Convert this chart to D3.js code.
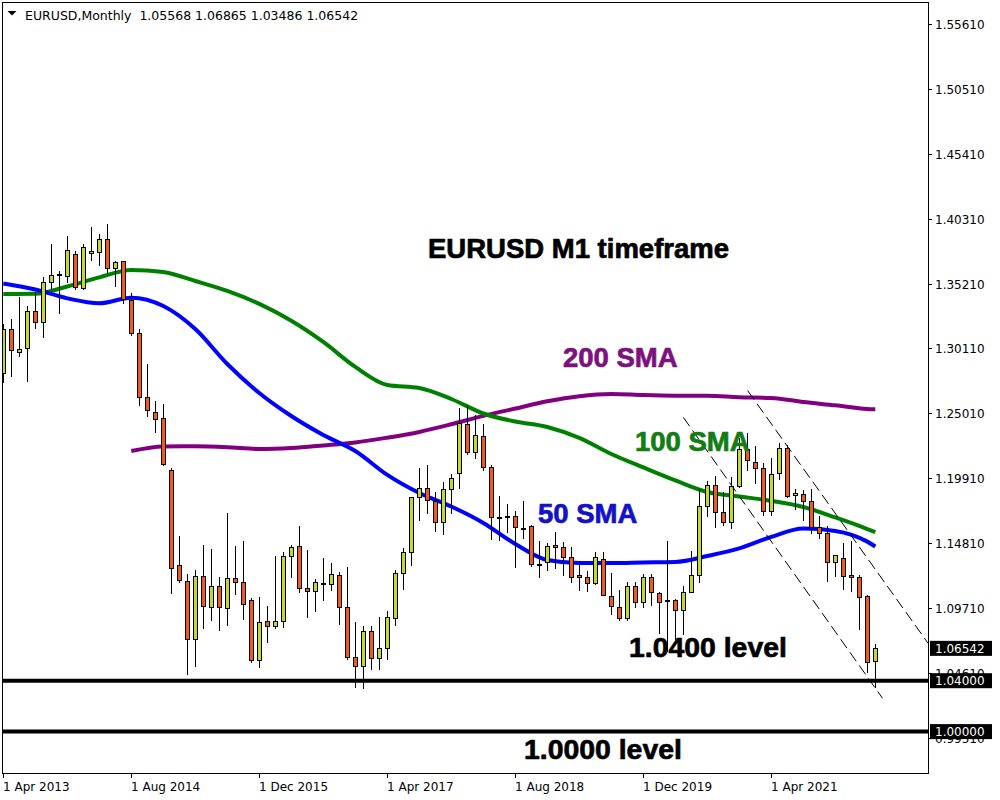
<!DOCTYPE html>
<html><head><meta charset="utf-8">
<script src="https://cdn.jsdelivr.net/npm/d3@7"></script>
<style>body{margin:0;background:#fff}svg{display:block}</style>
</head><body><svg id="c" width="1000" height="800"></svg>
<script>
// ---- data (monthly EURUSD, Apr 2013 .. May 2022) ----
const months = d3.range(110); // 0 = Apr 2013
const opens = [1.2818,1.3166,1.2982,1.3015,1.3303,1.3217,1.3531,1.3590,1.3583,1.3754,1.3484,1.3760,1.3772,1.3869,1.3641,1.3699,1.3392,1.3130,1.2627,1.2510,1.2462,1.2054,1.1307,1.1181,1.0726,1.1221,1.0977,1.1142,1.0969,1.1205,1.1173,1.1032,1.0560,1.0867,1.0828,1.0867,1.1378,1.1457,1.1126,1.1103,1.1165,1.1157,1.1228,1.0977,1.0584,1.0516,1.0793,1.0576,1.0655,1.0891,1.1244,1.1414,1.1842,1.1912,1.1814,1.1645,1.1903,1.2030,1.2415,1.2195,1.2323,1.2077,1.1689,1.1684,1.1691,1.1602,1.1616,1.1315,1.1330,1.1467,1.1449,1.1370,1.1231,1.1213,1.1166,1.1354,1.1069,1.0982,1.0895,1.1147,1.1021,1.1213,1.1087,1.1030,1.1031,1.0955,1.1100,1.1229,1.1773,1.1936,1.1724,1.1645,1.1928,1.2224,1.2121,1.2069,1.1734,1.2030,1.2227,1.1857,1.1865,1.1813,1.1611,1.1559,1.1335,1.1362,1.1231,1.1213,1.1066,1.05568];
const highs = [1.3205,1.3245,1.3418,1.3345,1.3452,1.3569,1.3833,1.3622,1.3894,1.3775,1.3832,1.3967,1.3913,1.3993,1.3700,1.3700,1.3445,1.3162,1.2889,1.2598,1.2575,1.2069,1.1537,1.1236,1.1270,1.1464,1.1435,1.1213,1.1716,1.1456,1.1496,1.1048,1.1056,1.0985,1.1378,1.1409,1.1464,1.1614,1.1425,1.1197,1.1362,1.1325,1.1255,1.1296,1.0864,1.0829,1.0829,1.0903,1.0950,1.1268,1.1445,1.1846,1.2074,1.2095,1.1880,1.1961,1.2026,1.2541,1.2556,1.2488,1.2414,1.2097,1.1852,1.1791,1.1734,1.1815,1.1625,1.1500,1.1486,1.1570,1.1489,1.1448,1.1324,1.1265,1.1412,1.1412,1.1249,1.1109,1.1179,1.1175,1.1239,1.1239,1.1100,1.1495,1.1040,1.1147,1.1420,1.1908,1.1966,1.2011,1.1881,1.2001,1.2310,1.2349,1.2243,1.2113,1.2150,1.2266,1.2254,1.1909,1.1900,1.1909,1.1692,1.1616,1.1386,1.1483,1.1495,1.1233,1.1076,1.06865];
const lows = [1.2745,1.2796,1.2953,1.2755,1.3175,1.3104,1.3479,1.3292,1.3531,1.3478,1.3475,1.3707,1.3667,1.3607,1.3502,1.3366,1.3116,1.2570,1.2483,1.2357,1.2097,1.1092,1.1175,1.0455,1.0518,1.0817,1.0880,1.0801,1.0841,1.1084,1.0888,1.0550,1.0511,1.0707,1.0812,1.0820,1.1213,1.1095,1.0904,1.0944,1.1037,1.1115,1.0848,1.0569,1.0352,1.0340,1.0493,1.0495,1.0570,1.0839,1.1118,1.1312,1.1662,1.1717,1.1575,1.1551,1.1716,1.1912,1.2182,1.2153,1.2056,1.1511,1.1506,1.1571,1.1296,1.1524,1.1302,1.1216,1.1268,1.1289,1.1234,1.1176,1.1110,1.1107,1.1160,1.1101,1.0926,1.0879,1.0879,1.0981,1.0981,1.0992,1.0778,1.0636,1.0727,1.0767,1.1098,1.1179,1.1694,1.1611,1.1622,1.1603,1.1925,1.2053,1.1952,1.1703,1.1704,1.1986,1.1847,1.1752,1.1664,1.1563,1.1524,1.1186,1.1222,1.1121,1.1106,1.0806,1.0467,1.03486];
const closes = [1.3166,1.2999,1.3005,1.3303,1.3222,1.3531,1.3590,1.3596,1.3785,1.3492,1.3806,1.3777,1.3869,1.3641,1.3692,1.3398,1.3130,1.2632,1.2525,1.2455,1.2101,1.1284,1.1189,1.0726,1.1221,1.0985,1.1142,1.0977,1.1205,1.1173,1.1001,1.0560,1.0859,1.0828,1.0867,1.1378,1.1449,1.1126,1.1103,1.1173,1.1160,1.1236,1.0977,1.0584,1.0516,1.0793,1.0576,1.0655,1.0899,1.1244,1.1414,1.1842,1.1912,1.1820,1.1645,1.1903,1.1995,1.2423,1.2195,1.2331,1.2077,1.1689,1.1684,1.1691,1.1605,1.1604,1.1315,1.1316,1.1455,1.1448,1.1370,1.1213,1.1213,1.1166,1.1370,1.1073,1.0990,1.0895,1.1147,1.1016,1.1218,1.1095,1.1021,1.1034,1.0955,1.1100,1.1229,1.1773,1.1936,1.1724,1.1645,1.1928,1.2219,1.2135,1.2069,1.1734,1.2022,1.2227,1.1854,1.1873,1.1813,1.1611,1.1559,1.1335,1.1388,1.1226,1.1213,1.1061,1.0545,1.06542];

const smaIdx = [0,4,8,12,16,20,24,28,32,36,40,44,48,52,56,60,64,68,72,76,80,84,88,92,96,100,104,108,109];
const sma50  = [1.3522,1.3475,1.3405,1.3366,1.3410,1.3345,1.3164,1.2889,1.2661,1.2480,1.2331,1.2205,1.2017,1.1875,1.1769,1.1640,1.1475,1.1349,1.1325,1.1325,1.1329,1.1333,1.1380,1.1440,1.1530,1.1596,1.1577,1.1493,1.1455];
const sma100 = [1.3439,1.3441,1.3498,1.3570,1.3628,1.3612,1.3541,1.3463,1.3361,1.3229,1.3062,1.2866,1.2724,1.2700,1.2614,1.2500,1.2437,1.2394,1.2308,1.2182,1.2076,1.1974,1.1883,1.1848,1.1813,1.1765,1.1683,1.1592,1.1567];
const sma200Idx = [16,20,24,28,32,36,40,44,48,52,56,60,64,68,72,76,80,84,88,92,96,100,104,108,109];
const sma200 = [1.2205,1.2241,1.2242,1.2235,1.2221,1.2229,1.2249,1.2272,1.2310,1.2355,1.2415,1.2481,1.2539,1.2596,1.2636,1.2653,1.2645,1.2640,1.2639,1.2628,1.2622,1.2590,1.2564,1.2535,1.2533];

const yTickLabels = ["1.55610","1.50510","1.45410","1.40310","1.35210","1.30110","1.25010","1.19910","1.14810","1.09710","1.04610","0.99510"];
const xTickIdx = [0,16,32,48,64,80,96];
const xTickLabels = ["1 Apr 2013","1 Aug 2014","1 Dec 2015","1 Apr 2017","1 Aug 2018","1 Dec 2019","1 Apr 2021"];
const levelValues = [1.04, 1.00];
const levelLabels = ["1.04000","1.00000"];
const lastPrice = 1.06542;
const lastPriceLabel = "1.06542";
const trendStartIdx = [85, 93.05], trendStartVal = [1.2470, 1.2679];
const trendEndIdx = [109.9, 115.6], trendEndVal = [1.0262, 1.0694];
const headerText = "EURUSD,Monthly  1.05568 1.06865 1.03486 1.06542";
const noteTexts = ["EURUSD M1 timeframe","200 SMA","100 SMA","50 SMA","1.0400 level","1.0000 level"];

// ---- drawing ----
const svg = d3.select("#c");
const L = 2, R = 928, T = 2, B = 773;
const x = d3.scaleLinear().domain([0, 109]).range([3.3, 875.3]);
const y = d3.scaleLinear().domain([1.0, 1.5561]).range([731.6, 24]);

svg.append("rect").attr("width",1000).attr("height",800).attr("fill","#fff");
svg.append("defs").append("clipPath").attr("id","plot")
  .append("rect").attr("x",L+1).attr("y",T+1).attr("width",R-L-1).attr("height",B-T-1);

const plot = svg.append("g").attr("clip-path","url(#plot)");

// SMA lines
const line = d3.line().x(d=>x(d[0])).y(d=>y(d[1])).curve(d3.curveMonotoneX);
const smaDefs = [
  {idx: sma200Idx, v: sma200, c: "#800080"},
  {idx: smaIdx, v: sma100, c: "#008000"},
  {idx: smaIdx, v: sma50, c: "#0000ff"}
];
smaDefs.forEach(s=>{
  plot.append("path").datum(s.idx.map((m,k)=>[m, s.v[k]]))
    .attr("d", line).attr("fill","none").attr("stroke", s.c).attr("stroke-width",4)
    .attr("stroke-linejoin","round");
});

// candles
const cg = plot.append("g").attr("shape-rendering","crispEdges");
months.forEach(i=>{
  const cx = Math.round(x(i));
  const o = opens[i], h = highs[i], l = lows[i], c = closes[i];
  cg.append("line").attr("x1",cx+0.5).attr("x2",cx+0.5)
    .attr("y1",Math.round(y(h))).attr("y2",Math.round(y(l))+1)
    .attr("stroke","#000").attr("stroke-width",1);
  const top = Math.round(y(Math.max(o,c))), bot = Math.round(y(Math.min(o,c)));
  cg.append("rect").attr("x",cx-2+0.5).attr("y",top+0.5)
    .attr("width",4).attr("height",Math.max(bot-top,1))
    .attr("fill", c >= o ? "#c2d82e" : "#f05a1e")
    .attr("stroke","#000").attr("stroke-width",1);
});

// trend lines
trendStartIdx.forEach((s,k)=>{
  plot.append("line")
    .attr("x1",x(s)).attr("y1",y(trendStartVal[k]))
    .attr("x2",x(trendEndIdx[k])).attr("y2",y(trendEndVal[k]))
    .attr("stroke","#000").attr("stroke-width",1).attr("stroke-dasharray","11,5");
});

// horizontal levels
levelValues.forEach(v=>{
  plot.append("line").attr("x1",L).attr("x2",R)
    .attr("y1",y(v)).attr("y2",y(v)).attr("stroke","#000").attr("stroke-width",4);
});

// frame
svg.append("rect").attr("x",L+0.5).attr("y",T+0.5).attr("width",R-L).attr("height",B-T)
  .attr("fill","none").attr("stroke","#000").attr("stroke-width",1);

// y axis
const axisFont = "DejaVu Sans, Verdana, sans-serif";
yTickLabels.forEach(t=>{
  const yy = Math.round(y(+t))+0.5;
  svg.append("line").attr("x1",R).attr("x2",R+4).attr("y1",yy).attr("y2",yy).attr("stroke","#000");
  svg.append("text").attr("x",935).attr("y",yy).attr("dy","0.36em")
    .attr("font-family",axisFont).attr("font-size",12).attr("fill","#000").text(t);
});
// x axis
xTickIdx.forEach((m,k)=>{
  const xx = Math.round(x(m))+0.5;
  svg.append("line").attr("x1",xx).attr("x2",xx).attr("y1",B).attr("y2",B+5).attr("stroke","#000");
  svg.append("text").attr("x",xx-0.5).attr("y",791)
    .attr("font-family",axisFont).attr("font-size",12).attr("fill","#000").text(xTickLabels[k]);
});

// price boxes
function box(v, label){
  const yy = y(v);
  svg.append("rect").attr("x",930).attr("y",yy-7.5).attr("width",62).attr("height",15).attr("fill","#000");
  svg.append("text").attr("x",935).attr("y",yy).attr("dy","0.36em")
    .attr("font-family",axisFont).attr("font-size",12).attr("fill","#fff").text(label);
}
box(lastPrice, lastPriceLabel);
levelValues.forEach((v,k)=>box(v, levelLabels[k]));

// header
svg.append("path").attr("d","M7.5,11 L16.5,11 L12,15.5 Z").attr("fill","#000");
svg.append("text").attr("x",25).attr("y",19.5).attr("xml:space","preserve")
  .style("white-space","pre")
  .attr("font-family",axisFont).attr("font-size",12.5).attr("fill","#000").text(headerText);

// annotations
const notePos = [[428,258,"#000",27.5],[563,367,"#7d127d",27.5],[635,451,"#127d12",27.5],[538,523,"#1212c8",27.5],[629,657,"#000",28.4],[524,759,"#000",28.4]];
noteTexts.forEach((t,k)=>{
  svg.append("text").attr("x",notePos[k][0]).attr("y",notePos[k][1])
    .attr("font-family","Liberation Sans, Arial, sans-serif").attr("font-weight","bold")
    .attr("font-size",notePos[k][3]).attr("fill",notePos[k][2])
    .attr("stroke",notePos[k][2]).attr("stroke-width",0.7).attr("stroke-linejoin","round")
    .text(t);
});
</script>
</body></html>
